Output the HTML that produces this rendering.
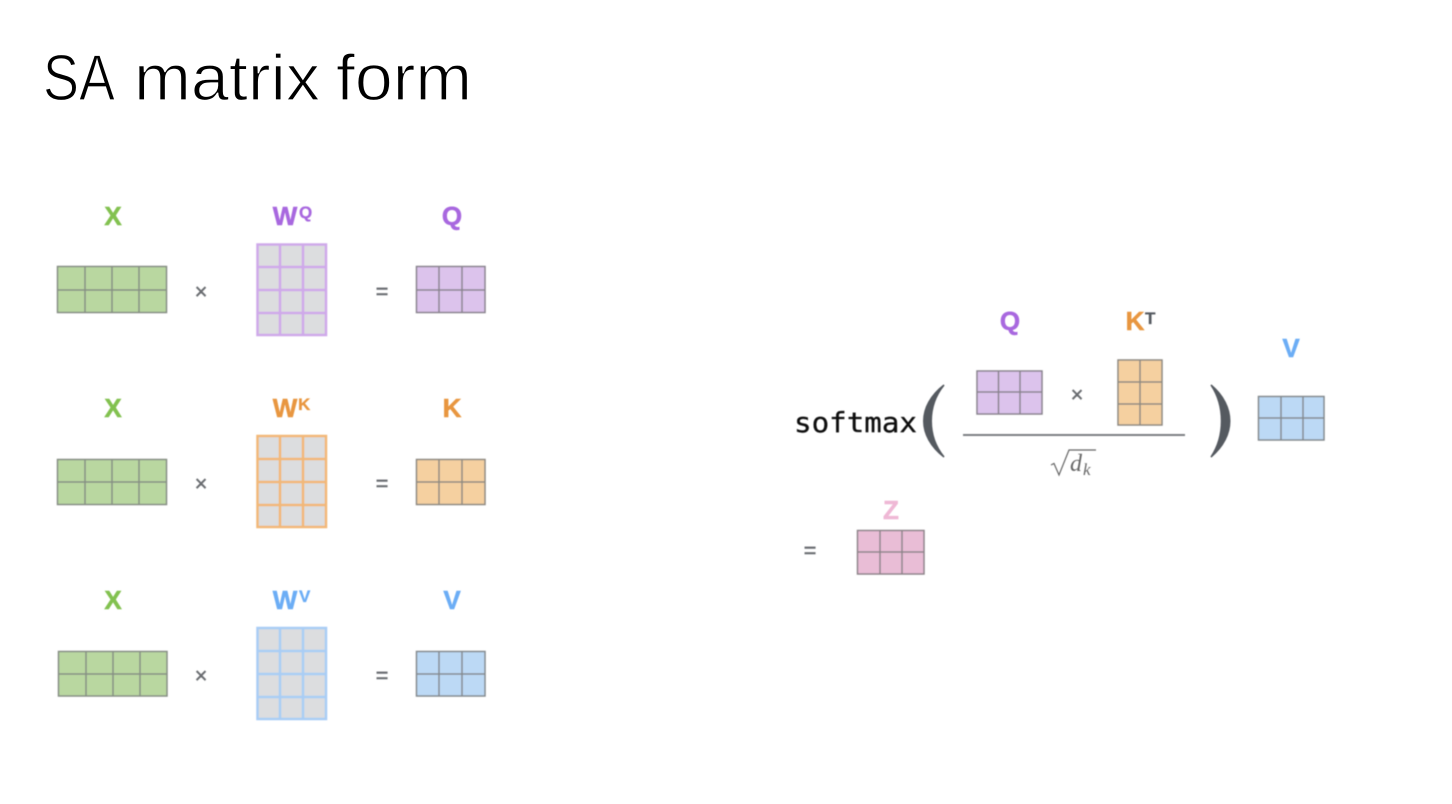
<!DOCTYPE html>
<html><head><meta charset="utf-8"><style>
html,body{margin:0;padding:0;background:#fff;width:1452px;height:804px;overflow:hidden}
svg{display:block}
.l{font:bold 26px "Liberation Sans",sans-serif;text-anchor:middle;stroke-width:.5px}
.s{font:bold 17px "Liberation Sans",sans-serif;stroke-width:.3px}
.o{font:22px "Liberation Sans",sans-serif;text-anchor:middle;fill:#696c70;stroke:#696c70;stroke-width:.4px}
.t{font:65px "Liberation Sans",sans-serif;fill:#000;stroke:#fff;stroke-width:1.300px}
</style></head><body>
<svg width="1452" height="804" viewBox="0 0 1452 804" xmlns="http://www.w3.org/2000/svg">
<defs><filter id="b" x="-2%" y="-2%" width="104%" height="104%"><feGaussianBlur stdDeviation="0.55"/></filter></defs>
<rect width="1452" height="804" fill="#fff"/>
<text class="t" x="43" y="100" textLength="72" lengthAdjust="spacingAndGlyphs">SA</text>
<text class="t" x="134" y="100" textLength="186" lengthAdjust="spacingAndGlyphs">matrix</text>
<text class="t" x="336" y="100" textLength="136" lengthAdjust="spacingAndGlyphs">form</text>
<g filter="url(#b)">
<!-- Row 1 -->
<text class="l" x="113" y="225" fill="#82c150" stroke="#82c150">X</text>
<text class="l" x="285" y="225" fill="#a868df" stroke="#a868df">W</text><text class="s" x="299" y="218" fill="#a868df" stroke="#a868df">Q</text>
<text class="l" x="452" y="225" fill="#a868df" stroke="#a868df">Q</text>
<path d="M57.500 266.500H166.500V312.500H57.500ZM57.500 290H166.500M85 266.500V312.500M112 266.500V312.500M139 266.500V312.500" fill="#b9d7a0" stroke="#868e84" stroke-width="1.500"/>
<path d="M257.500 244.500H326V335H257.500ZM257.500 267H326M257.500 290H326M257.500 313H326M280 244.500V335M303 244.500V335" fill="#dcdddf" stroke="#cfa9ea" stroke-width="2.500"/>
<path d="M416.500 266.500H485V312.500H416.500ZM416.500 290H485M439 266.500V312.500M462 266.500V312.500" fill="#dcc3ec" stroke="#89848e" stroke-width="1.500"/>
<text class="o" x="201" y="299">×</text><text class="o" x="382" y="299">=</text>
<!-- Row 2 -->
<text class="l" x="113" y="417" fill="#82c150" stroke="#82c150">X</text>
<text class="l" x="285" y="417" fill="#e8963f" stroke="#e8963f">W</text><text class="s" x="298" y="410" fill="#e8963f" stroke="#e8963f">K</text>
<text class="l" x="452" y="417" fill="#e8963f" stroke="#e8963f">K</text>
<path d="M57.500 459.500H166.500V504.500H57.500ZM57.500 482H166.500M85 459.500V504.500M112 459.500V504.500M139 459.500V504.500" fill="#b9d7a0" stroke="#868e84" stroke-width="1.500"/>
<path d="M257.500 436H326V527H257.500ZM257.500 459H326M257.500 482H326M257.500 505H326M280 436V527M303 436V527" fill="#dcdddf" stroke="#f2b878" stroke-width="2.500"/>
<path d="M416.500 459.500H485V504.500H416.500ZM416.500 482H485M439 459.500V504.500M462 459.500V504.500" fill="#f5d0a0" stroke="#8e8982" stroke-width="1.500"/>
<text class="o" x="201" y="491">×</text><text class="o" x="382" y="491">=</text>
<!-- Row 3 -->
<text class="l" x="113" y="609" fill="#82c150" stroke="#82c150">X</text>
<text class="l" x="285" y="609" fill="#6cadf5" stroke="#6cadf5">W</text><text class="s" x="299" y="602" fill="#6cadf5" stroke="#6cadf5">V</text>
<text class="l" x="452" y="609" fill="#6cadf5" stroke="#6cadf5">V</text>
<path d="M58.500 651.500H167V696H58.500ZM58.500 674H167M86 651.500V696M113 651.500V696M140 651.500V696" fill="#b9d7a0" stroke="#868e84" stroke-width="1.500"/>
<path d="M257.500 628H326V719H257.500ZM257.500 651H326M257.500 674H326M257.500 697H326M280 628V719M303 628V719" fill="#dcdddf" stroke="#a9cdf5" stroke-width="2.500"/>
<path d="M416.500 651.500H485V696H416.500ZM416.500 674H485M439 651.500V696M462 651.500V696" fill="#bcd9f5" stroke="#848a8e" stroke-width="1.500"/>
<text class="o" x="201" y="683">×</text><text class="o" x="382" y="683">=</text>
<!-- Right formula -->
<text x="794" y="432" font-family="DejaVu Sans Mono,monospace" font-size="28" fill="#111" stroke="#111" stroke-width=".3" textLength="123" lengthAdjust="spacingAndGlyphs">softmax</text>
<path d="M944 385C917 406 917 436 944 457C927 436 927 406 944 385Z" fill="#555a60" stroke="#555a60" stroke-width="1.500"/>
<path d="M1211 385C1236 406 1236 436 1211 457C1225 436 1225 406 1211 385Z" fill="#555a60" stroke="#555a60" stroke-width="1.500"/>
<text class="l" x="1010" y="330" fill="#a868df" stroke="#a868df">Q</text>
<text class="l" x="1135" y="330" fill="#e8963f" stroke="#e8963f">K</text><text class="s" x="1145" y="324" fill="#555a60" stroke="#555a60">T</text>
<text class="l" x="1291" y="357" fill="#6cadf5" stroke="#6cadf5">V</text>
<text class="l" x="891" y="519" fill="#efb8d5" stroke="#efb8d5">Z</text>
<path d="M977 371H1042V414H977ZM977 392H1042M998.500 371V414M1020 371V414" fill="#dcc3ec" stroke="#89848e" stroke-width="1.500"/>
<path d="M1118 360H1162V425H1118ZM1118 382H1162M1118 404H1162M1140 360V425" fill="#f5d0a0" stroke="#8e8982" stroke-width="1.500"/>
<path d="M1258.500 396.500H1324V440H1258.500ZM1258.500 418H1324M1281 396.500V440M1303 396.500V440" fill="#bcd9f5" stroke="#848a8e" stroke-width="1.500"/>
<path d="M857.500 530.500H924V574H857.500ZM857.500 552H924M880 530.500V574M902 530.500V574" fill="#e9bdd6" stroke="#8e848a" stroke-width="1.500"/>
<text class="o" x="1077" y="402">×</text>
<text class="o" x="810" y="558">=</text>
<path d="M963 435H1185" stroke="#7d8083" stroke-width="2" fill="none"/>
<path d="M1051 465L1054 463.500L1059 475L1069 450H1096" stroke="#666" stroke-width="1.200" fill="none"/>
<text x="1070" y="471" font-family="Liberation Serif,serif" font-style="italic" font-size="24" fill="#666">d</text>
<text x="1083" y="475" font-family="Liberation Serif,serif" font-style="italic" font-size="17" fill="#666">k</text>
</g>
</svg>
</body></html>
